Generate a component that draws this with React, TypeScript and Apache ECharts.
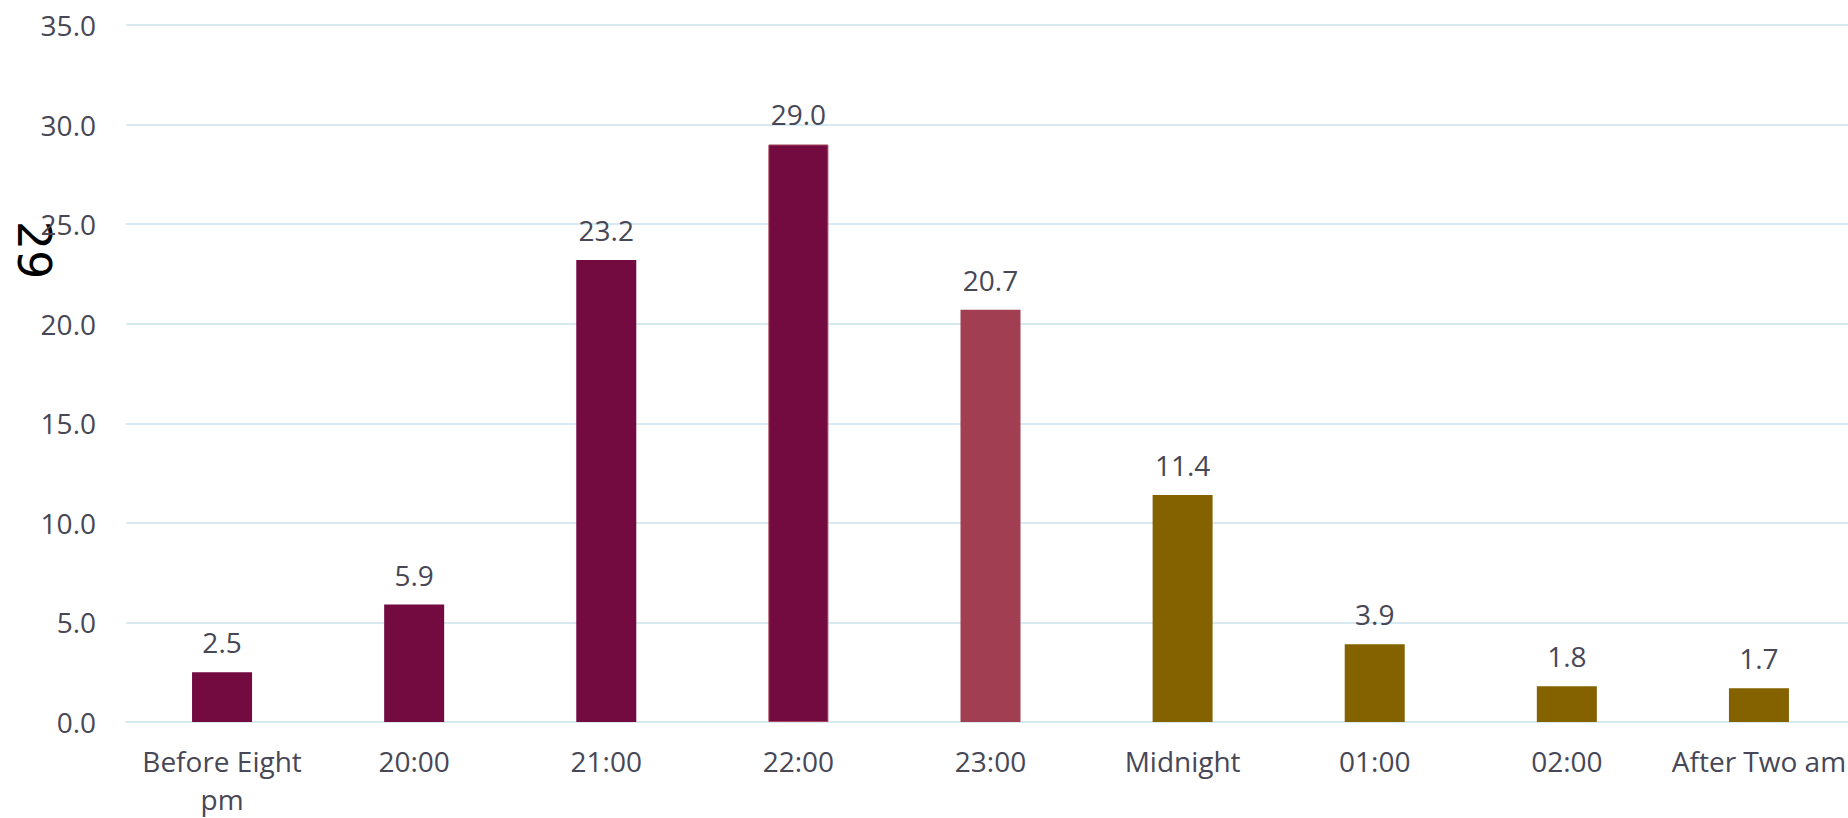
import React, { useEffect, useRef } from "react";
import * as echarts from "echarts";

// Share of people going to bed in each time slot (%)
const categories = [
  "Before Eight\npm",
  "20:00",
  "21:00",
  "22:00",
  "23:00",
  "Midnight",
  "01:00",
  "02:00",
  "After Two am",
];
const values = [2.5, 5.9, 23.2, 29.0, 20.7, 11.4, 3.9, 1.8, 1.7];
const barColors = [
  "#730a40",
  "#730a40",
  "#730a40",
  "#730a40",
  "#a13e51",
  "#846200",
  "#846200",
  "#846200",
  "#846200",
];
const sideNote = "29";

const TEXT_COLOR = "#474756";
const GRID_COLOR = "#d7eaf1";
const FONT = "'Open Sans', sans-serif";

export default function App() {
  const ref = useRef<HTMLDivElement>(null);

  useEffect(() => {
    if (!ref.current) return;
    const chart = echarts.init(ref.current, undefined, { renderer: "svg" });
    chart.setOption({
      animation: false,
      backgroundColor: "#ffffff",
      grid: { left: 126, top: 25, width: 1729, height: 698, containLabel: false },
      xAxis: {
        type: "category",
        data: categories,
        axisTick: { show: false },
        axisLine: { show: true, lineStyle: { color: GRID_COLOR, width: 2 } },
        axisLabel: {
          color: TEXT_COLOR,
          fontFamily: FONT,
          fontSize: 28,
          lineHeight: 38,
          margin: 20,
          interval: 0,
        },
      },
      yAxis: {
        type: "value",
        min: 0,
        max: 35,
        interval: 5,
        axisLine: { show: false },
        axisTick: { show: false },
        splitLine: { lineStyle: { color: GRID_COLOR, width: 2 } },
        axisLabel: {
          color: TEXT_COLOR,
          fontFamily: FONT,
          fontSize: 28,
          margin: 30,
          formatter: (v: number) => v.toFixed(1),
        },
      },
      series: [
        {
          type: "bar",
          barWidth: 60,
          data: values.map((v, i) => ({
            value: v,
            itemStyle: {
              color: barColors[i],
              borderColor: i === 3 ? "#a8475c" : barColors[i],
              borderWidth: i === 3 ? 1 : 0,
            },
          })),
          label: {
            show: true,
            position: "top",
            distance: 16,
            color: TEXT_COLOR,
            fontFamily: FONT,
            fontSize: 28,
            formatter: (p: any) => Number(p.value).toFixed(1),
          },
        },
      ],
      graphic: [
        {
          type: "text",
          x: 34,
          y: 250,
          rotation: -Math.PI / 2,
          style: {
            text: sideNote,
            fill: "#000000",
            font: "46px 'DejaVu Sans', sans-serif",
            textAlign: "center",
            textVerticalAlign: "middle",
          },
        },
      ],
    });
    return () => chart.dispose();
  }, []);

  return (
    <div
      style={{
        position: "fixed",
        left: 0,
        top: 0,
        width: 1848,
        height: 818,
        overflow: "hidden",
        background: "#ffffff",
      }}
    >
      <div ref={ref} style={{ width: 1880, height: 818 }} />
    </div>
  );
}
